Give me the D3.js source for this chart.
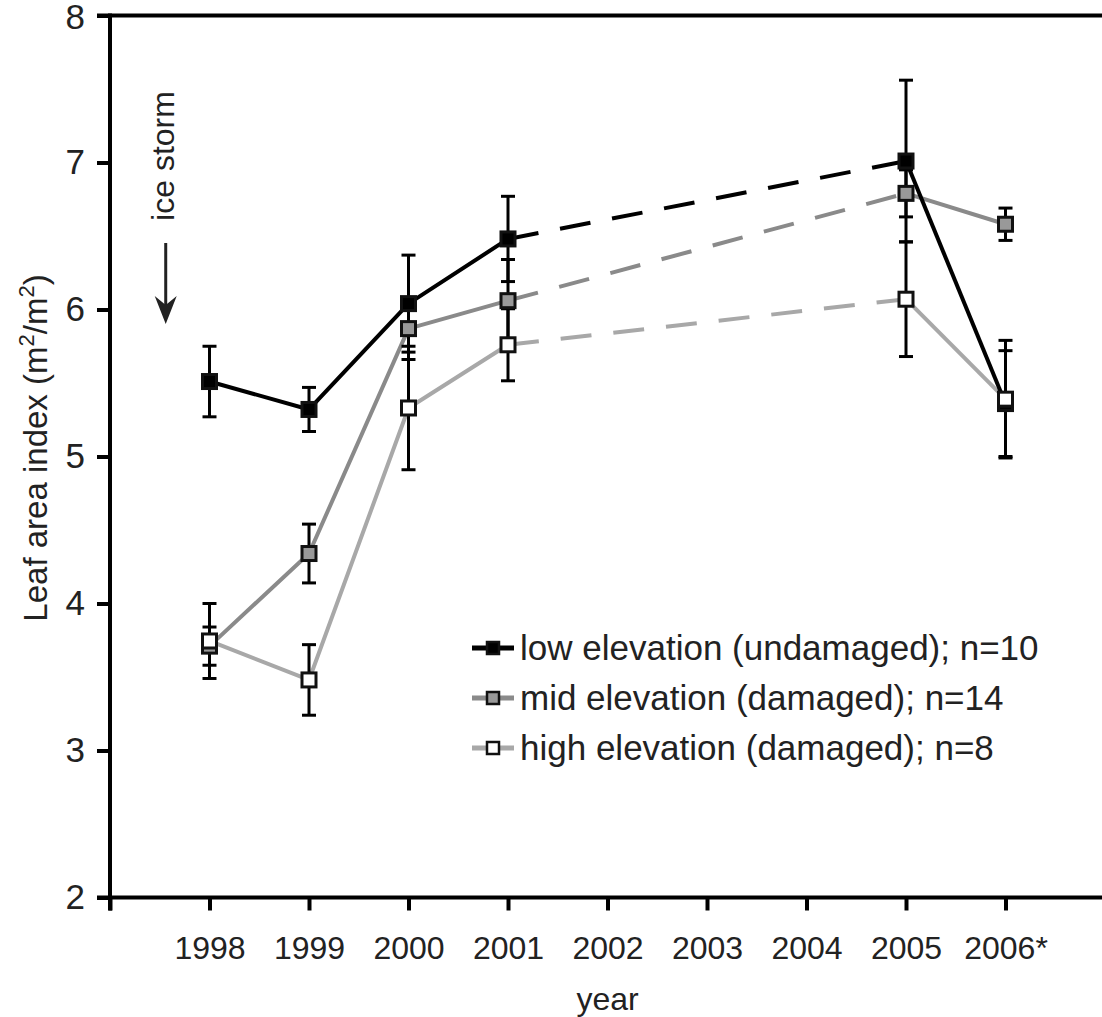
<!DOCTYPE html>
<html>
<head>
<meta charset="utf-8">
<script src="https://cdn.jsdelivr.net/npm/d3@7"></script>
<style>
  html, body { margin: 0; padding: 0; background: #fff; }
  svg { display: block; font-family: "Liberation Sans", Arial, Helvetica, sans-serif; }
</style>
</head>
<body>
<svg id="chart" width="1102" height="1017"></svg>
<script>
// ---- data ----
const years = [1998, 1999, 2000, 2001, 2005, 2006];
const xTickYears = [1997, 1998, 1999, 2000, 2001, 2002, 2003, 2004, 2005, 2006];
const xTickLabels = ["", "1998", "1999", "2000", "2001", "2002", "2003", "2004", "2005", "2006*"];
const yTicks = [2, 3, 4, 5, 6, 7, 8];

const lowMean  = [5.51, 5.32, 6.04, 6.48, 7.01, 5.36];
const lowErr   = [0.24, 0.15, 0.33, 0.29, 0.55, 0.36];
const midMean  = [3.71, 4.34, 5.87, 6.06, 6.79, 6.58];
const midErr   = [0.13, 0.20, 0.21, 0.28, 0.16, 0.11];
const highMean = [3.745, 3.48, 5.33, 5.76, 6.07, 5.39];
const highErr  = [0.255, 0.24, 0.42, 0.245, 0.39, 0.40];

const seriesNames = ["low elevation (undamaged); n=10", "mid elevation (damaged); n=14", "high elevation (damaged); n=8"];
const lineColors = ["#000000", "#8a8a8a", "#a8a8a8"];
const fillColors = ["#000000", "#999999", "#ffffff"];

// ---- build ----
const svg = d3.select("#chart");
const x = d3.scaleLinear().domain([1997, 2007]).range([110, 1105]);
const y = d3.scaleLinear().domain([2, 8]).range([897.5, 15.5]);

const series = [
  { name: seriesNames[0], mean: lowMean, err: lowErr, stroke: lineColors[0], fill: fillColors[0] },
  { name: seriesNames[1], mean: midMean, err: midErr, stroke: lineColors[1], fill: fillColors[1] },
  { name: seriesNames[2], mean: highMean, err: highErr, stroke: lineColors[2], fill: fillColors[2] }
];
series.forEach(s => { s.pts = years.map((yr, i) => ({ yr, v: s.mean[i], e: s.err[i] })); });

// axes
const yAxis = d3.axisLeft(y).tickValues(yTicks).tickSize(13).tickSizeOuter(0).tickPadding(12).tickFormat(d3.format("d"));
const gy = svg.append("g").attr("transform", "translate(110,0)").call(yAxis);
gy.select(".domain").remove();
gy.selectAll(".tick line").attr("stroke", "#000").attr("stroke-width", 4);
gy.selectAll(".tick text").attr("font-size", 35).attr("fill", "#222").attr("font-family", "Liberation Sans, Arial, sans-serif");
gy.selectAll(".tick").filter(d => d === 8).select("text").attr("dy", "0.36em");

const xAxis = d3.axisBottom(x).tickValues(xTickYears).tickSize(13).tickSizeOuter(0).tickPadding(26)
  .tickFormat((d, i) => xTickLabels[i]);
const gx = svg.append("g").attr("transform", `translate(0,${y(2)})`).call(xAxis);
gx.select(".domain").remove();
gx.selectAll(".tick line").attr("stroke", "#000").attr("stroke-width", 4);
gx.selectAll(".tick text").attr("font-size", 32).attr("fill", "#222").attr("font-family", "Liberation Sans, Arial, sans-serif");

// frame lines: left axis, bottom axis, top line
svg.append("line").attr("x1", x(1997)).attr("x2", x(1997)).attr("y1", y(8) - 2).attr("y2", y(2) + 13)
  .attr("stroke", "#000").attr("stroke-width", 4);
svg.append("line").attr("x1", x(1997) - 13).attr("x2", 1102).attr("y1", y(2)).attr("y2", y(2))
  .attr("stroke", "#000").attr("stroke-width", 4);
svg.append("line").attr("x1", x(1997) - 13).attr("x2", 1102).attr("y1", y(8)).attr("y2", y(8))
  .attr("stroke", "#000").attr("stroke-width", 4);

// axis titles
svg.append("text").attr("x", x(2002)).attr("y", 1010).attr("text-anchor", "middle")
  .attr("font-size", 32).attr("fill", "#222").text("year");

const yl = svg.append("text").attr("transform", "translate(47,448) rotate(-90)")
  .attr("text-anchor", "middle").attr("font-size", 33).attr("fill", "#222");
yl.append("tspan").text("Leaf area index (m");
yl.append("tspan").attr("font-size", 22).attr("dy", -13).text("2");
yl.append("tspan").attr("dy", 13).text("/m");
yl.append("tspan").attr("font-size", 22).attr("dy", -13).text("2");
yl.append("tspan").attr("dy", 13).text(")");

// ice storm annotation
svg.append("text").attr("transform", `translate(${x(1997.56) + 8},156) rotate(-90)`)
  .attr("text-anchor", "middle").attr("font-size", 32).attr("fill", "#222").text("ice storm");
const ax = x(1997.56);
svg.append("line").attr("x1", ax).attr("x2", ax).attr("y1", 243).attr("y2", 312)
  .attr("stroke", "#222").attr("stroke-width", 3);
svg.append("path")
  .attr("d", `M${ax},324 L${ax - 11},296 L${ax},305 L${ax + 11},296 Z`)
  .attr("fill", "#222");

// lines (solid segments and dashed gap segments)
const lineGen = d3.line().x(d => x(d.yr)).y(d => y(d.v));
const plot = svg.append("g");
[2, 1, 0].forEach(k => {
  const s = series[k];
  const p = s.pts;
  plot.append("path").datum(p.slice(0, 4)).attr("d", lineGen)
    .attr("fill", "none").attr("stroke", s.stroke).attr("stroke-width", 4).attr("stroke-linejoin", "round");
  plot.append("path").datum(p.slice(3, 5)).attr("d", lineGen)
    .attr("fill", "none").attr("stroke", s.stroke).attr("stroke-width", 4).attr("stroke-dasharray", "31,22");
  plot.append("path").datum(p.slice(4, 6)).attr("d", lineGen)
    .attr("fill", "none").attr("stroke", s.stroke).attr("stroke-width", 4);
});

// error bars
const capW = 7;
series.forEach(s => {
  const g = plot.append("g").attr("stroke", "#000").attr("stroke-width", 3);
  s.pts.forEach(d => {
    const cx = x(d.yr);
    g.append("line").attr("x1", cx).attr("x2", cx).attr("y1", y(d.v + d.e)).attr("y2", y(d.v - d.e));
    g.append("line").attr("x1", cx - capW).attr("x2", cx + capW).attr("y1", y(d.v + d.e)).attr("y2", y(d.v + d.e));
    g.append("line").attr("x1", cx - capW).attr("x2", cx + capW).attr("y1", y(d.v - d.e)).attr("y2", y(d.v - d.e));
  });
});

// markers
const sq = 14;
series.forEach(s => {
  plot.append("g").selectAll("rect").data(s.pts).join("rect")
    .attr("x", d => x(d.yr) - sq / 2).attr("y", d => y(d.v) - sq / 2)
    .attr("width", sq).attr("height", sq)
    .attr("fill", s.fill).attr("stroke", "#111").attr("stroke-width", 3);
});

// legend
const lg = svg.append("g");
series.forEach((s, i) => {
  const cy = 648 + i * 50;
  lg.append("line").attr("x1", 472).attr("x2", 514).attr("y1", cy).attr("y2", cy)
    .attr("stroke", s.stroke).attr("stroke-width", 5);
  lg.append("rect").attr("x", 493 - 6).attr("y", cy - 6).attr("width", 12).attr("height", 12)
    .attr("fill", s.fill).attr("stroke", "#111").attr("stroke-width", 2.5);
  lg.append("text").attr("x", 520).attr("y", cy + 12).attr("font-size", 35).attr("fill", "#222").text(s.name);
});
</script>
</body>
</html>
